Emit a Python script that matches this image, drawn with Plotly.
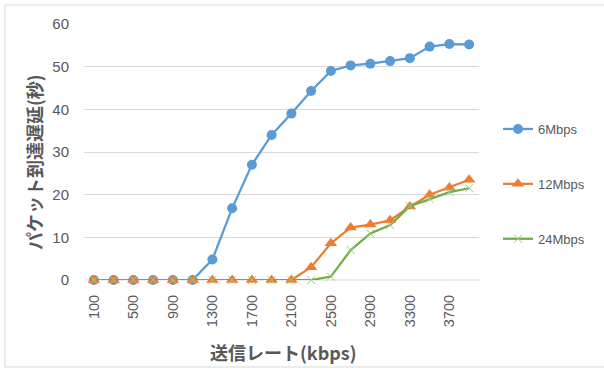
import plotly.graph_objects as go

# Send rate categories (kbps)
rates = [str(r) for r in range(100, 4000, 200)]
tick_labels = ["100", "500", "900", "1300", "1700", "2100", "2500", "2900", "3300", "3700"]

# Packet arrival delay (seconds) per link speed
delay_6m = [0, 0, 0, 0, 0, 0, 4.8, 16.8, 27.0, 34.0, 39.0, 44.3, 49.0, 50.3, 50.7, 51.3, 52.0, 54.7, 55.3, 55.2]
delay_12m = [0, 0, 0, 0, 0, 0, 0, 0, 0, 0, 0, 3.0, 8.6, 12.3, 13.0, 14.0, 17.2, 20.0, 21.7, 23.5]
delay_24m = [0, 0, 0, 0, 0, 0, 0, 0, 0, 0, 0, 0, 0.8, 7.0, 10.9, 12.9, 17.3, 19.0, 20.6, 21.5]

names = ["6Mbps", "12Mbps", "24Mbps"]
colors = ["#5B9BD5", "#ED7D31", "#70AD47"]

TXT = "#595959"
JP = "Noto Sans CJK JP"
NUM = "Liberation Sans"

fig = go.Figure()
fig.add_trace(go.Scatter(
    x=rates, y=delay_6m, name=names[0], mode="lines+markers", legendgroup="a",
    line=dict(color=colors[0], width=2.25), cliponaxis=False,
    marker=dict(symbol="circle", size=10, color=colors[0]),
))
fig.add_trace(go.Scatter(
    x=rates, y=delay_12m, name=names[1], mode="lines+markers", legendgroup="b",
    line=dict(color=colors[1], width=2.25), cliponaxis=False,
    marker=dict(symbol="triangle-up", size=11, color=colors[1]),
))
fig.add_trace(go.Scatter(
    x=rates, y=delay_24m, name=names[2], mode="lines+markers", legendgroup="c",
    line=dict(color=colors[2], width=2.25), cliponaxis=False,
    marker=dict(symbol="x-thin-open", size=8, color="#9CCB7E",
                line=dict(color="#9CCB7E", width=1)),
))

# plot area: x 84..479 px, y 24..280 px
L, R, T, B = 84, 479, 24, 280
W, H = R - L, B - T


def px(x):
    return (x - L) / W


def py(y):
    return (B - y) / H


fig.update_layout(
    width=604, height=369,
    margin=dict(l=L, r=604 - R, t=T, b=369 - B, autoexpand=False),
    paper_bgcolor="white", plot_bgcolor="white",
    font=dict(family=NUM, color=TXT, size=12),
    showlegend=True,
    legend=dict(
        x=px(498), y=py(114), xanchor="left", yanchor="top",
        font=dict(family=NUM, size=13, color=TXT),
        tracegroupgap=35, itemwidth=30, bgcolor="rgba(0,0,0,0)",
    ),
    xaxis=dict(
        type="category", range=[-0.5, len(rates) - 0.5], autorange=False,
        automargin=False,
        tickmode="array", tickvals=tick_labels, ticktext=tick_labels,
        tickangle=-90, showgrid=False, zeroline=False, showline=False, ticks="",
        ticklabelstandoff=11,
        tickfont=dict(family=NUM, size=14.5, color=TXT),
    ),
    yaxis=dict(
        range=[0, 60], dtick=10, showgrid=True, gridcolor="#D9D9D9", gridwidth=1,
        zeroline=False, showline=False, ticks="", ticklabelstandoff=14,
        automargin=False,
        tickfont=dict(family=NUM, size=15, color=TXT),
    ),
    annotations=[
        dict(text="<b>送信レート(kbps)</b>", xref="paper", yref="paper",
             x=px(283), y=py(352), xanchor="center", yanchor="middle",
             showarrow=False, font=dict(family=JP, size=18, color=TXT)),
        dict(text="<b>パケット到達遅延(秒)</b>", xref="paper", yref="paper",
             x=px(34), y=py(162), xanchor="center", yanchor="middle", textangle=-90,
             showarrow=False, font=dict(family=JP, size=18, color=TXT)),
    ],
    shapes=[
        dict(type="rect", xref="paper", yref="paper",
             x0=px(5), x1=px(620), y0=py(367), y1=py(5),
             line=dict(color="#D9D9D9", width=1), layer="below"),
        dict(type="line", xref="paper", yref="paper",
             x0=0, x1=1, y0=0, y1=0,
             line=dict(color="#D9D9D9", width=1), layer="below"),
    ],
)

fig.write_html("out.html")
